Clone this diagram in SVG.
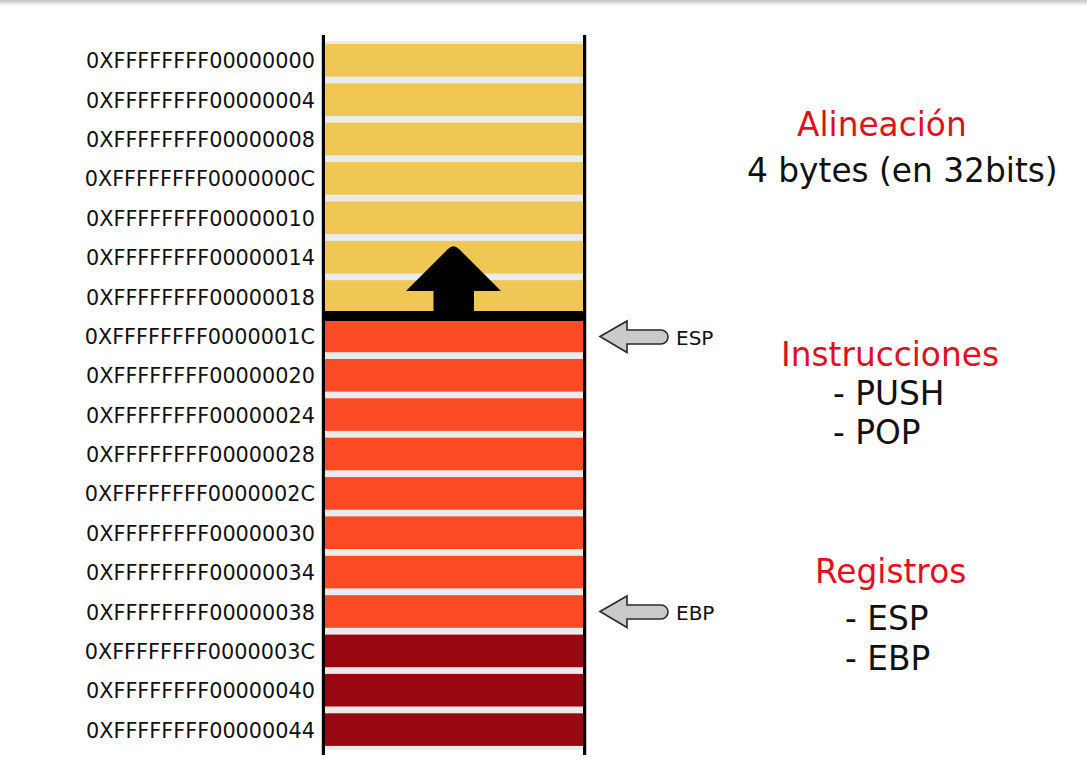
<svg xmlns="http://www.w3.org/2000/svg" width="1087" height="763" viewBox="0 0 1087 763">
<defs>
<linearGradient id="shadow" x1="0" y1="0" x2="0" y2="1">
<stop offset="0" stop-color="#c4c4c4"/>
<stop offset="1" stop-color="#ffffff"/>
</linearGradient>
<style>
.addr{font-family:"DejaVu Sans",sans-serif;font-size:20.8px;fill:#111;text-anchor:end}
.reg{font-family:"DejaVu Sans",sans-serif;font-size:20px;fill:#111}
.title{font-family:"DejaVu Sans",sans-serif;font-size:32.8px;fill:#E0111F}
.body{font-family:"DejaVu Sans",sans-serif;font-size:32.8px;fill:#111}
.y{fill:#F0C755}
.o{fill:#FA4B24}
.d{fill:#990711}
.ptr{fill:#C9CACC;stroke:#2a2a2a;stroke-width:1.6;stroke-linejoin:miter}
</style>
</defs>
<rect width="1087" height="763" fill="#fff"/>
<rect x="0" y="0" width="1087" height="6" fill="url(#shadow)"/>

<g id="stack">
<rect x="325" y="41" width="258" height="709" fill="#EBEBEB"/>
<rect class="y" x="325" y="44" width="258" height="32.6"/>
<rect class="y" x="325" y="83.4" width="258" height="32.6"/>
<rect class="y" x="325" y="122.7" width="258" height="32.6"/>
<rect class="y" x="325" y="162.1" width="258" height="32.6"/>
<rect class="y" x="325" y="201.5" width="258" height="32.6"/>
<rect class="y" x="325" y="240.9" width="258" height="32.6"/>
<rect class="y" x="325" y="280.2" width="258" height="32.6"/>
<rect class="o" x="325" y="319.6" width="258" height="32.6"/>
<rect class="o" x="325" y="359" width="258" height="32.6"/>
<rect class="o" x="325" y="398.3" width="258" height="32.6"/>
<rect class="o" x="325" y="437.7" width="258" height="32.6"/>
<rect class="o" x="325" y="477.1" width="258" height="32.6"/>
<rect class="o" x="325" y="516.4" width="258" height="32.6"/>
<rect class="o" x="325" y="555.8" width="258" height="32.6"/>
<rect class="o" x="325" y="595.2" width="258" height="32.6"/>
<rect class="d" x="325" y="634.6" width="258" height="32.6"/>
<rect class="d" x="325" y="673.9" width="258" height="32.6"/>
<rect class="d" x="325" y="713.3" width="258" height="32.6"/>
<rect x="325" y="311" width="258" height="10" fill="#000"/>
<rect x="321.8" y="35" width="3.2" height="720" fill="#000"/>
<rect x="583" y="35" width="3.2" height="720" fill="#000"/>
</g>

<g id="push-arrow">
<path d="M433.5,312 L433.5,291 L406,291 L448,249 Q453.5,243.5 459,249 L501,291 L474,291 L474,312 Z" fill="#000"/>
</g>

<g id="addresses">
<text class="addr" x="315" y="68.3">0XFFFFFFFF00000000</text>
<text class="addr" x="315" y="107.7">0XFFFFFFFF00000004</text>
<text class="addr" x="315" y="147">0XFFFFFFFF00000008</text>
<text class="addr" x="315" y="186.4">0XFFFFFFFF0000000C</text>
<text class="addr" x="315" y="225.8">0XFFFFFFFF00000010</text>
<text class="addr" x="315" y="265.2">0XFFFFFFFF00000014</text>
<text class="addr" x="315" y="304.5">0XFFFFFFFF00000018</text>
<text class="addr" x="315" y="343.9">0XFFFFFFFF0000001C</text>
<text class="addr" x="315" y="383.3">0XFFFFFFFF00000020</text>
<text class="addr" x="315" y="422.6">0XFFFFFFFF00000024</text>
<text class="addr" x="315" y="462">0XFFFFFFFF00000028</text>
<text class="addr" x="315" y="501.4">0XFFFFFFFF0000002C</text>
<text class="addr" x="315" y="540.7">0XFFFFFFFF00000030</text>
<text class="addr" x="315" y="580.1">0XFFFFFFFF00000034</text>
<text class="addr" x="315" y="619.5">0XFFFFFFFF00000038</text>
<text class="addr" x="315" y="658.9">0XFFFFFFFF0000003C</text>
<text class="addr" x="315" y="698.2">0XFFFFFFFF00000040</text>
<text class="addr" x="315" y="737.6">0XFFFFFFFF00000044</text>
</g>

<g id="esp-pointer">
<path class="ptr" d="M600,336.5 L627,321 L627,330 L661,330 A7,7 0 0 1 661,344 L627,344 L627,352.5 Z"/>
<text class="reg" x="676" y="344.5">ESP</text>
</g>

<g id="ebp-pointer">
<path class="ptr" d="M600,611.5 L627,596 L627,605 L661,605 A7,7 0 0 1 661,619 L627,619 L627,627.5 Z"/>
<text class="reg" x="676" y="619.5">EBP</text>
</g>

<g id="alineacion">
<text class="title" x="797" y="136">Alineación</text>
<text class="body" x="747" y="181.5">4 bytes (en 32bits)</text>
</g>

<g id="instrucciones">
<text class="title" x="781" y="366">Instrucciones</text>
<text class="body" x="833" y="405">- PUSH</text>
<text class="body" x="833" y="443.5">- POP</text>
</g>

<g id="registros">
<text class="title" x="815" y="583">Registros</text>
<text class="body" x="845" y="630">- ESP</text>
<text class="body" x="845" y="669.5">- EBP</text>
</g>
</svg>
